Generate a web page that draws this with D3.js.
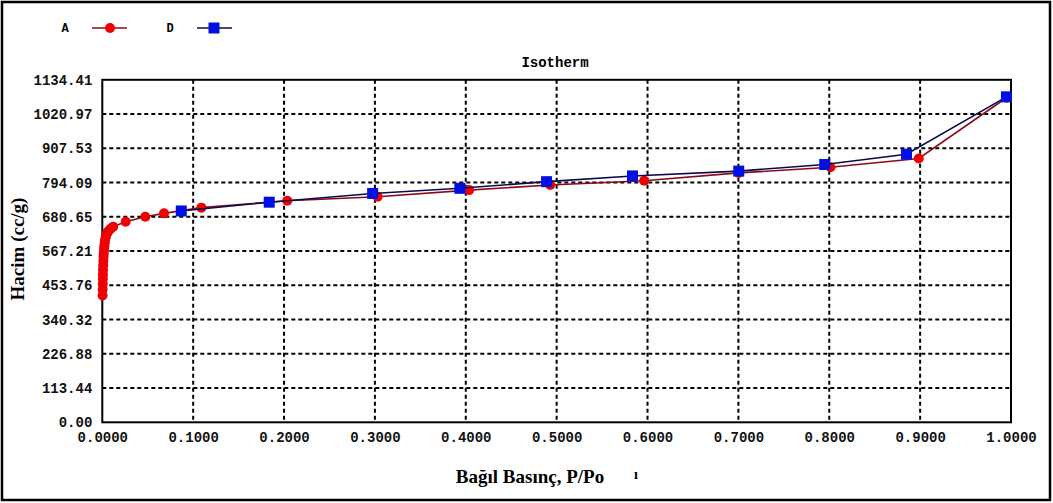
<!DOCTYPE html>
<html>
<head>
<meta charset="utf-8">
<script src="https://cdn.jsdelivr.net/npm/d3@7"></script>
<style>
  html, body { margin: 0; padding: 0; background: #fff; }
  svg { display: block; }
</style>
</head>
<body>
<svg id="chart" width="1053" height="503"></svg>
<script>
// Relative pressure (P/Po) and adsorbed volume (cc/g) for the two isotherm series
const seriesA_p = [0.0003, 0.0004, 0.0005, 0.0006, 0.0007, 0.0008, 0.0010, 0.0012, 0.0014, 0.0016,
  0.0019, 0.0022, 0.0026, 0.0030, 0.0035, 0.0042, 0.0050, 0.0060, 0.0075, 0.0095, 0.0120,
  0.0257, 0.0473, 0.0679, 0.1090, 0.2035, 0.3030, 0.4037, 0.4930, 0.5963, 0.7004, 0.8013, 0.8985, 0.9950];
const seriesA_v = [420, 440, 458, 475, 490, 505, 520, 535, 548, 560,
  572, 583, 593, 602, 610, 618, 625, 630, 636, 642, 648,
  664, 681, 692, 711, 734, 747, 769, 786, 800, 826, 845, 874, 1075];

const seriesD_p = [0.0869, 0.1837, 0.2975, 0.3935, 0.4889, 0.5835, 0.7004, 0.7950, 0.8850, 0.9950];
const seriesD_v = [700, 729, 758, 775, 797, 816, 832, 854, 888, 1078];

const yTicks = [0.00, 113.44, 226.88, 340.32, 453.76, 567.21, 680.65, 794.09, 907.53, 1020.97, 1134.41];
const xTicks = [0, 0.1, 0.2, 0.3, 0.4, 0.5, 0.6, 0.7, 0.8, 0.9, 1.0];

const chartTitle = "Isotherm";
const xTitle = "Bağıl Basınç, P/Po";
const yTitle = "Hacim (cc/g)";
const legendItems = [{ name: "A", key: "A" }, { name: "D", key: "D" }];

const svg = d3.select("#chart");
const W = 1053, H = 503;
const plot = { left: 102.3, right: 1011, top: 79.8, bottom: 422.3 };

const x = d3.scaleLinear().domain([0, 1]).range([plot.left, plot.right]);
const y = d3.scaleLinear().domain([0, 1134.41]).range([plot.bottom, plot.top]);

const monoFont = "'Liberation Mono', 'Courier New', monospace";
const serifFont = "'Liberation Serif', 'Times New Roman', serif";

// Outer frame
svg.append("rect")
  .attr("x", 2).attr("y", 2).attr("width", W - 5).attr("height", H - 5)
  .attr("fill", "#fff").attr("stroke", "#000").attr("stroke-width", 2.5);

// Dashed grid
const grid = svg.append("g");
grid.selectAll("line.v").data(xTicks.slice(1, -1)).join("line")
  .attr("x1", d => x(d)).attr("x2", d => x(d))
  .attr("y1", plot.top).attr("y2", plot.bottom)
  .attr("stroke", "#000").attr("stroke-width", 2).attr("stroke-dasharray", "4,3");
grid.selectAll("line.h").data(yTicks.slice(1, -1)).join("line")
  .attr("x1", plot.left).attr("x2", plot.right)
  .attr("y1", d => y(d)).attr("y2", d => y(d))
  .attr("stroke", "#000").attr("stroke-width", 2).attr("stroke-dasharray", "4,3");

// Plot frame
svg.append("rect")
  .attr("x", plot.left).attr("y", plot.top)
  .attr("width", plot.right - plot.left).attr("height", plot.bottom - plot.top)
  .attr("fill", "none").attr("stroke", "#000").attr("stroke-width", 2);

// Axes
const yAxis = svg.append("g")
  .attr("transform", `translate(${plot.left - 10},0)`)
  .call(d3.axisLeft(y).tickValues(yTicks).tickFormat(d3.format(".2f")).tickSize(0).tickPadding(0));
yAxis.select(".domain").remove();
yAxis.selectAll("text")
  .attr("font-family", monoFont).attr("font-weight", "bold").attr("font-size", 14).attr("fill", "#111");

const xAxis = svg.append("g")
  .attr("transform", `translate(0,${plot.bottom + 10})`)
  .call(d3.axisBottom(x).tickValues(xTicks).tickFormat(d3.format(".4f")).tickSize(0).tickPadding(0));
xAxis.select(".domain").remove();
xAxis.selectAll("text")
  .attr("font-family", monoFont).attr("font-weight", "bold").attr("font-size", 14).attr("fill", "#111");

// Titles
svg.append("text").attr("x", 555).attr("y", 67).attr("text-anchor", "middle")
  .attr("font-family", monoFont).attr("font-weight", "bold").attr("font-size", 14)
  .text(chartTitle);

svg.append("text").attr("x", 530).attr("y", 483).attr("text-anchor", "middle")
  .attr("font-family", serifFont).attr("font-weight", "bold").attr("font-size", 19)
  .text(xTitle);
svg.append("text").attr("x", 636).attr("y", 479).attr("text-anchor", "middle")
  .attr("font-family", serifFont).attr("font-weight", "bold").attr("font-size", 14)
  .text("ı");

svg.append("text")
  .attr("transform", "translate(24,249) rotate(-90)")
  .attr("text-anchor", "middle")
  .attr("font-family", serifFont).attr("font-weight", "bold").attr("font-size", 19)
  .text(yTitle);

// Series
const dataA = seriesA_p.map((p, i) => ({ p, v: seriesA_v[i] }));
const dataD = seriesD_p.map((p, i) => ({ p, v: seriesD_v[i] }));
const line = d3.line().x(d => x(d.p)).y(d => y(d.v));

svg.append("path").datum(dataA)
  .attr("d", line).attr("fill", "none")
  .attr("stroke", "#8b0a1a").attr("stroke-width", 1.6);
svg.append("g").selectAll("circle").data(dataA).join("circle")
  .attr("cx", d => x(d.p)).attr("cy", d => y(d.v)).attr("r", 5)
  .attr("fill", "#f00000");

svg.append("path").datum(dataD)
  .attr("d", line).attr("fill", "none")
  .attr("stroke", "#0a0a50").attr("stroke-width", 1.6);
const sq = 11;
svg.append("g").selectAll("rect").data(dataD).join("rect")
  .attr("x", d => x(d.p) - sq / 2).attr("y", d => y(d.v) - sq / 2)
  .attr("width", sq).attr("height", sq)
  .attr("fill", "#0010e0");

// Legend
const legend = svg.append("g");
const legendX = [65, 170];
legendItems.forEach((item, i) => {
  const gx = legendX[i];
  legend.append("text").attr("x", gx).attr("y", 32).attr("text-anchor", "middle")
    .attr("font-family", monoFont).attr("font-weight", "bold").attr("font-size", 12)
    .text(item.name);
  legend.append("line")
    .attr("x1", gx + 27).attr("x2", gx + 62).attr("y1", 28).attr("y2", 28)
    .attr("stroke", item.key === "A" ? "#8b0a1a" : "#0a0a50").attr("stroke-width", 1.6);
  if (item.key === "A") {
    legend.append("circle").attr("cx", gx + 45).attr("cy", 28).attr("r", 5).attr("fill", "#f00000");
  } else {
    legend.append("rect").attr("x", gx + 44 - sq / 2).attr("y", 28 - sq / 2)
      .attr("width", sq).attr("height", sq).attr("fill", "#0010e0");
  }
});
</script>
</body>
</html>
